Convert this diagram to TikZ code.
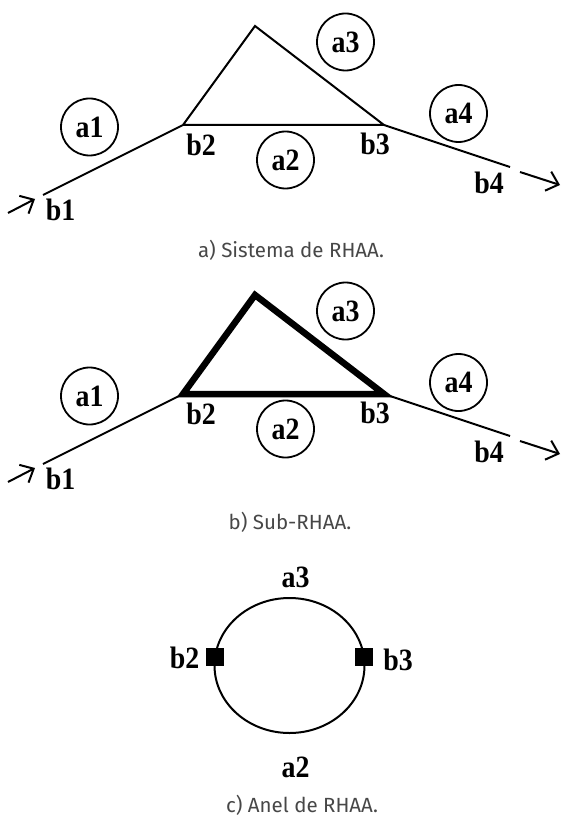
\documentclass[tikz,border=0pt]{standalone}
\usepackage{fontspec}
\setmainfont{Liberation Serif}
\newfontfamily\capfont{Fira Sans}
\usetikzlibrary{arrows.meta}
\newcommand\narrowtxt[1]{\scalebox{0.9}[1]{#1}}
\begin{document}
\begin{tikzpicture}[x=1pt,y=-1pt,
  wire/.style={line width=2pt},
  heavy/.style={line width=6.5pt, line join=miter},
  circ/.style={draw, circle, line width=1.8pt, minimum size=57pt, inner sep=0pt, font=\bfseries\fontsize{31}{31}\selectfont},
  lab/.style={inner sep=0pt, font=\bfseries\fontsize{31}{31}\selectfont},
  arr/.style={line width=2pt, -{Straight Barb[length=11pt,width=20pt,line width=2pt]}},
  captext/.style={text=black!72, inner sep=0pt, font=\capfont\fontsize{20.5}{20.5}\selectfont},
  sq/.style={fill=black, minimum size=18pt, inner sep=0pt}]
\useasboundingbox (0,0) rectangle (564,818);

% ---------- panel a ----------
\coordinate (pa1) at (43,195);
\coordinate (pa2) at (183,125);
\coordinate (pat) at (255,26);
\coordinate (pa3) at (384,125);
\coordinate (pa4) at (510,167);
\coordinate (ina-s) at (8,213);
\coordinate (ina-e) at (35,199);
\coordinate (outa-s) at (520,172);
\coordinate (outa-e) at (560,185);
\draw[wire] (pa1) -- (pa2) -- (pat) -- (pa3) -- (pa2);
\draw[wire] (pa3) -- (pa4);
\draw[arr] (ina-s) -- (ina-e);
\draw[arr] (outa-s) -- (outa-e);
\node[circ] (a1a) at (89.5,127) {\narrowtxt{a1}};
\node[circ] (a2a) at (285.5,160) {\narrowtxt{a2}};
\node[circ] (a3a) at (345.5,42) {\narrowtxt{a3}};
\node[circ] (a4a) at (458.5,113.5) {\narrowtxt{a4}};
\node[lab] (b1a) at (60.5,210) {\narrowtxt{b1}};
\node[lab] (b2a) at (201,145) {\narrowtxt{b2}};
\node[lab] (b3a) at (375,144) {\narrowtxt{b3}};
\node[lab] (b4a) at (489,183) {\narrowtxt{b4}};
\node[captext] (capa) at (291,250) {a) Sistema de RHAA.};

% ---------- panel b ----------
\coordinate (pb1) at (43,464);
\coordinate (pb2) at (183,394);
\coordinate (pbt) at (255,295);
\coordinate (pb3) at (384,394);
\coordinate (pb4) at (510,436);
\coordinate (inb-s) at (8,482);
\coordinate (inb-e) at (35,468);
\coordinate (outb-s) at (520,441);
\coordinate (outb-e) at (560,454);
\draw[wire] (pb1) -- (pb2);
\draw[wire] (pb3) -- (pb4);
\draw[heavy] (pb2) -- (pbt) -- (pb3) -- cycle;
\draw[arr] (inb-s) -- (inb-e);
\draw[arr] (outb-s) -- (outb-e);
\node[circ] (a1b) at (89.5,396) {\narrowtxt{a1}};
\node[circ] (a2b) at (285.5,429) {\narrowtxt{a2}};
\node[circ] (a3b) at (345.5,311) {\narrowtxt{a3}};
\node[circ] (a4b) at (458.5,382.5) {\narrowtxt{a4}};
\node[lab] (b1b) at (60.5,479) {\narrowtxt{b1}};
\node[lab] (b2b) at (201,414) {\narrowtxt{b2}};
\node[lab] (b3b) at (375,413) {\narrowtxt{b3}};
\node[lab] (b4b) at (489,452) {\narrowtxt{b4}};
\node[captext] (capb) at (290,522) {b) Sub-RHAA.};

% ---------- panel c ----------
\draw[line width=2pt] (289.5,665.5) ellipse [x radius=75, y radius=67.5];
\node[sq] (sqc2) at (215,657) {};
\node[sq] (sqc3) at (364,657) {};
\node[lab] (b2c) at (184.5,658) {\narrowtxt{b2}};
\node[lab] (b3c) at (398,660) {\narrowtxt{b3}};
\node[lab] (a3c) at (295.5,577) {\narrowtxt{a3}};
\node[lab] (a2c) at (295.5,767) {\narrowtxt{a2}};
\node[captext] (capc) at (302,805) {c) Anel de RHAA.};
\end{tikzpicture}
\end{document}
